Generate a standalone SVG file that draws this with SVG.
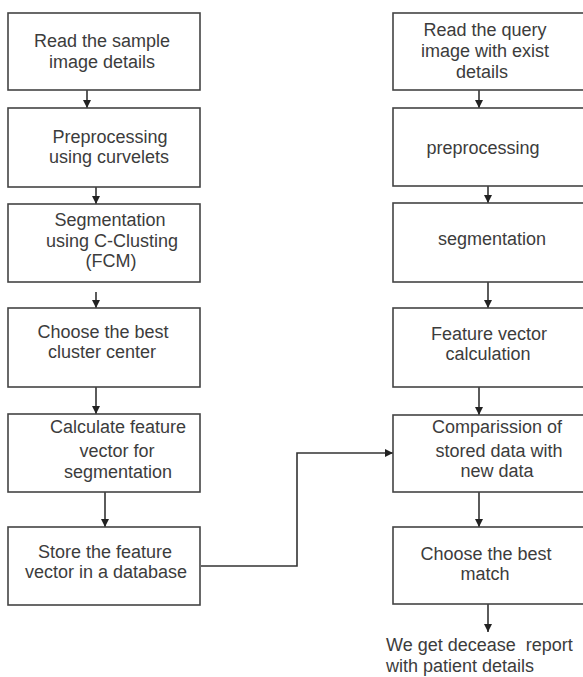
<svg xmlns="http://www.w3.org/2000/svg" width="583" height="677" viewBox="0 0 583 677">
<defs>
<marker id="ah" markerUnits="userSpaceOnUse" markerWidth="9" markerHeight="9" refX="8" refY="4" orient="auto">
<path d="M0,0 L8,4 L0,8 z" fill="#222"/>
</marker>
<style>
.box{fill:#fff;stroke:#444;stroke-width:1.6}
.t{font-family:"Liberation Sans",Arial,sans-serif;font-size:18px;fill:#3c3c3c;text-anchor:middle}
.tl{font-family:"Liberation Sans",Arial,sans-serif;font-size:18px;fill:#3c3c3c}
.c{fill:none;stroke:#333;stroke-width:1.6;marker-end:url(#ah)}
</style>
</defs>
<rect width="583" height="677" fill="#fff"/>
<g id="connectors">
<line class="c" x1="87" y1="90" x2="87" y2="108"/>
<line class="c" x1="96" y1="187" x2="96" y2="204"/>
<line class="c" x1="96" y1="292" x2="96" y2="308"/>
<line class="c" x1="96" y1="387" x2="96" y2="414"/>
<line class="c" x1="105" y1="492" x2="105" y2="527"/>
<polyline class="c" points="201,566 297,566 297,453 393,453"/>
<line class="c" x1="479" y1="90" x2="479" y2="108"/>
<line class="c" x1="488" y1="186" x2="488" y2="203"/>
<line class="c" x1="488" y1="282" x2="488" y2="308"/>
<line class="c" x1="479" y1="387" x2="479" y2="415"/>
<line class="c" x1="479" y1="492" x2="479" y2="527"/>
<line class="c" x1="488" y1="604" x2="488" y2="632"/>
</g>
<g id="l1"><rect class="box" x="8" y="13" width="192" height="77"/><text class="t" x="102" y="47">Read the sample</text><text class="t" x="102" y="68">image details</text></g>
<g id="l2"><rect class="box" x="8" y="108" width="192" height="79"/><text class="t" x="110" y="143">Preprocessing</text><text class="t" x="109" y="163">using curvelets</text></g>
<g id="l3"><rect class="box" x="8" y="204" width="192" height="78"/><text class="t" x="110" y="226">Segmentation</text><text class="t" x="112" y="247">using C-Clusting</text><text class="t" x="111" y="267">(FCM)</text></g>
<g id="l4"><rect class="box" x="8" y="308" width="192" height="79"/><text class="t" x="103" y="338">Choose the best</text><text class="t" x="102" y="358">cluster center</text></g>
<g id="l5"><rect class="box" x="8" y="414" width="192" height="78"/><text class="t" x="118" y="433">Calculate feature</text><text class="t" x="117" y="457">vector for</text><text class="t" x="118" y="478">segmentation</text></g>
<g id="l6"><rect class="box" x="8" y="527" width="192" height="78"/><text class="t" x="105" y="558">Store the feature</text><text class="t" x="106" y="578">vector in a database</text></g>
<g id="r1"><rect class="box" x="393" y="13" width="200" height="77"/><text class="t" x="485" y="36">Read the query</text><text class="t" x="485" y="57">image with exist</text><text class="t" x="482" y="78">details</text></g>
<g id="r2"><rect class="box" x="393" y="108" width="200" height="78"/><text class="t" x="483" y="154">preprocessing</text></g>
<g id="r3"><rect class="box" x="393" y="203" width="200" height="79"/><text class="t" x="492" y="245">segmentation</text></g>
<g id="r4"><rect class="box" x="393" y="308" width="200" height="79"/><text class="t" x="489" y="340">Feature vector</text><text class="t" x="488" y="360">calculation</text></g>
<g id="r5"><rect class="box" x="393" y="415" width="200" height="77"/><text class="t" x="497" y="433">Comparission of</text><text class="t" x="499" y="457">stored data with</text><text class="t" x="497" y="477">new data</text></g>
<g id="r6"><rect class="box" x="393" y="527" width="200" height="77"/><text class="t" x="486" y="560">Choose the best</text><text class="t" x="485" y="580">match</text></g>
<g id="result"><text class="tl" x="386" y="651" xml:space="preserve">We get decease  report</text><text class="tl" x="386" y="672">with patient details</text></g>
</svg>
